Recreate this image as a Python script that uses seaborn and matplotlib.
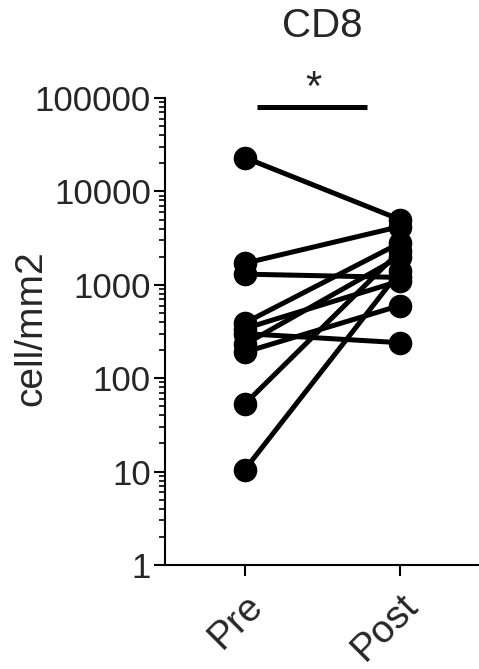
import matplotlib
matplotlib.use("Agg")
import matplotlib.pyplot as plt
import matplotlib.ticker as mticker
import seaborn as sns
import pandas as pd

# paired values per subject
groups = ["Pre", "Post"]
pre = [23000, 1700, 1300, 390, 340, 300, 230, 190, 53, 10.5]
post = [5000, 4200, 1200, 2800, 1100, 240, 2000, 600, 2300, 1400]
yticks = [1, 10, 100, 1000, 10000, 100000]

rows = []
for i, (a, b) in enumerate(zip(pre, post)):
    rows.append({"subject": i, "time": 0, "value": a})
    rows.append({"subject": i, "time": 1, "value": b})
df = pd.DataFrame(rows)

sns.set_style("ticks")
plt.rcParams["font.family"] = ["Liberation Sans", "DejaVu Sans"]

fig = plt.figure(figsize=(4.79, 6.69), dpi=100)
ax = fig.add_axes([0.344, 0.1555, 0.656, 0.698])

sns.lineplot(data=df, x="time", y="value", units="subject", estimator=None,
             color="black", linewidth=3.6, marker="o", markersize=17,
             markeredgewidth=0, ax=ax, legend=False)

ax.set_yscale("log")
ax.set_ylim(1, 100000)
ax.set_xlim(-0.516, 1.51)
ax.set_yticks(yticks)
ax.yaxis.set_major_formatter(mticker.FuncFormatter(lambda v, p: f"{int(round(v))}"))
ax.yaxis.set_minor_locator(mticker.LogLocator(base=10, subs=range(2, 10)))
ax.yaxis.set_minor_formatter(mticker.NullFormatter())
ax.set_xticks([0, 1])
ax.set_xticklabels(groups, rotation=45, ha="right", rotation_mode="anchor", fontsize=28)

ax.tick_params(axis="y", which="major", labelsize=25, length=8, width=1.5, color="black", pad=2)
ax.tick_params(axis="x", which="major", length=8, width=1.5, color="black", pad=8)
ax.tick_params(axis="y", which="minor", length=4, width=1.2, color="black")
for s in ["left", "bottom"]:
    ax.spines[s].set_linewidth(1.5)
    ax.spines[s].set_color("black")
sns.despine(ax=ax)

ax.set_xlabel("")
ax.set_ylabel("cell/mm2", fontsize=28, va="center", ha="center")
ax.yaxis.set_label_coords(-0.424, 0.507)
ax.set_title("CD8", fontsize=29, pad=44)

# significance bar
ax.plot([0.077, 0.79], [80000, 80000], color="black", linewidth=3.6, clip_on=False,
        solid_capstyle="butt")
ax.text(0.44, 76000, "*", fontsize=30, ha="center", va="bottom")

fig.savefig("out.png", dpi=100)
